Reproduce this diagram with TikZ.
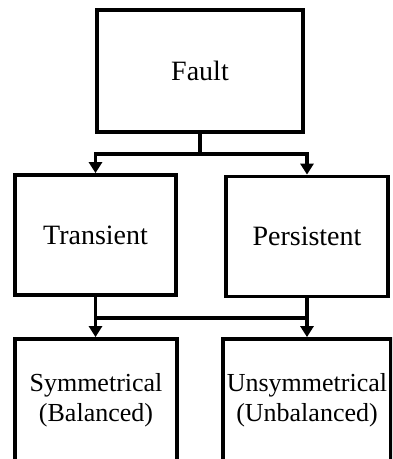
\documentclass[tikz,border=0pt]{standalone}
\usepackage{fontspec}
\setmainfont{Liberation Serif}
\usetikzlibrary{arrows.meta,calc}
\begin{document}
\begin{tikzpicture}[x=1pt,y=-1pt,
  box/.style={draw=black,line width=3.8pt,inner sep=0pt,align=center},
  bigtext/.style={font=\fontsize{28}{34}\selectfont},
  smalltext/.style={font=\fontsize{26}{30}\selectfont},
  conn/.style={draw=black,line width=3.8pt},
  arr/.style={conn,-{Triangle[length=11pt,width=13pt]}}]
\useasboundingbox (0,0) rectangle (392,459);
\clip (0,0) rectangle (392,459);
\node[box,bigtext,minimum width=206pt,minimum height=122pt] (fault) at (200,71) {Fault};
\node[box,bigtext,minimum width=161pt,minimum height=120pt] (trans) at (95.5,235) {Transient};
\node[box,bigtext,minimum width=162pt,minimum height=120pt] (pers) at (307,236.5) {Persistent};
\node[box,smalltext,minimum width=162pt,minimum height=122pt] (sym) at (96,400) {Symmetrical\\(Balanced)};
\node[box,smalltext,minimum width=168pt,minimum height=122pt] (unsym) at (307,400) {Unsymmetrical\\(Unbalanced)};
\coordinate (j1) at (200,154);
\draw[conn] (fault.south) -- (j1);
\draw[conn,line cap=rect] (j1 -| trans.north) -- (j1 -| pers.north);
\draw[arr] (j1 -| trans.north) -- (trans.north);
\draw[arr] (j1 -| pers.north) -- (pers.north);
\coordinate (j2) at (200,318);
\draw[conn] (trans.south) -- (trans.south |- j2);
\draw[conn] (pers.south) -- (pers.south |- j2);
\draw[conn,line cap=rect] (trans.south |- j2) -- (pers.south |- j2);
\draw[arr] (trans.south |- j2) -- (trans.south |- sym.north);
\draw[arr] (pers.south |- j2) -- (pers.south |- unsym.north);
\end{tikzpicture}
\end{document}
